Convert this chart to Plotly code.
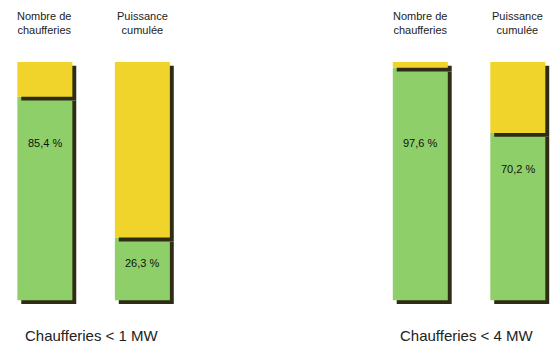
import plotly.graph_objects as go

groups = ["Chaufferies < 1 MW", "Chaufferies < 4 MW"]
series = ["Nombre de<br>chaufferies", "Puissance<br>cumulée"]
# share (%) of the green part, per group then per series
green_pct = [[85.4, 26.3], [97.6, 70.2]]
labels = [["85,4 %", "26,3 %"], ["97,6 %", "70,2 %"]]

GREEN = "#8fcf69"
YELLOW = "#f1d42b"
SHADOW = "#2e2c14"
GROUP_GAP = 3.85
BAR_W = 0.564
SH_X = 0.04   # shadow shift (x units)
SH_Y = 1.6    # shadow shift (y units)

xs, g, yl, txt = [], [], [], []
for gi, grp in enumerate(groups):
    for si, s in enumerate(series):
        xs.append(gi * GROUP_GAP + si)
        g.append(green_pct[gi][si])
        yl.append(100 - green_pct[gi][si])
        txt.append(labels[gi][si])

fig = go.Figure()
fig.add_trace(go.Bar(x=[x + SH_X for x in xs], y=g, base=[-SH_Y] * len(xs), width=BAR_W,
                     marker=dict(color=SHADOW, line=dict(width=0)), hoverinfo="skip"))
fig.add_trace(go.Bar(x=xs, y=g, base=[0] * len(xs), width=BAR_W,
                     marker=dict(color=GREEN, line=dict(width=0))))
fig.add_trace(go.Bar(x=[x + SH_X for x in xs], y=yl, base=[v - SH_Y for v in g], width=BAR_W,
                     marker=dict(color=SHADOW, line=dict(width=0)), hoverinfo="skip"))
fig.add_trace(go.Bar(x=xs, y=yl, base=g, width=BAR_W,
                     marker=dict(color=YELLOW, line=dict(width=0))))

annotations = []
for x, v, t in zip(xs, g, txt):
    ly = min(66, v - 15) if v > 40 else v * 0.6
    annotations.append(dict(x=x, y=ly, xref="x", yref="y", text=t, showarrow=False,
                            font=dict(size=11, color="#111", family="Liberation Sans, Arial")))
for gi, grp in enumerate(groups):
    for si, s in enumerate(series):
        annotations.append(dict(x=gi * GROUP_GAP + si, y=1, xref="x", yref="paper", yanchor="bottom",
                                yshift=24, text=s, showarrow=False,
                                font=dict(size=11, color="#222", family="Liberation Sans, Arial")))
    annotations.append(dict(x=gi * GROUP_GAP + 0.48, y=0, xref="x", yref="paper", yanchor="top",
                            yshift=-20, text=grp, showarrow=False,
                            font=dict(size=15, color="#222", family="Liberation Sans, Arial")))

fig.update_layout(
    width=550, height=344, barmode="overlay", showlegend=False,
    margin=dict(l=0, r=0, t=62, b=39),
    paper_bgcolor="white", plot_bgcolor="white",
    xaxis=dict(range=[-0.46, 5.18], visible=False),
    yaxis=dict(range=[-2, 100], visible=False),
    annotations=annotations,
)
fig.write_html("out.html", config={"displayModeBar": False},
               post_script="document.body.style.margin='0';document.body.style.overflow='hidden';")
